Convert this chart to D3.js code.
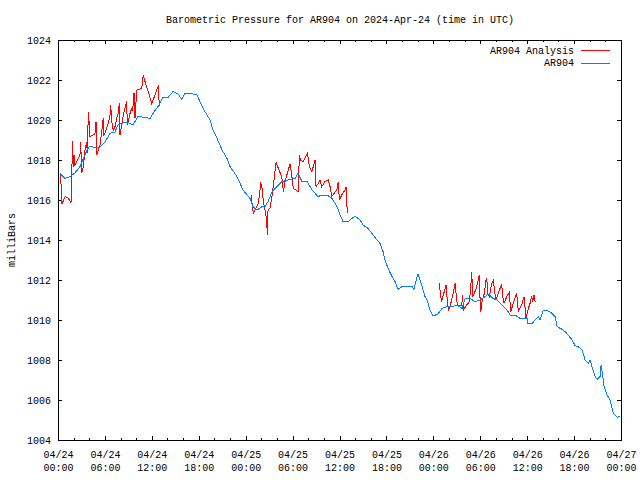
<!DOCTYPE html>
<html><head><meta charset="utf-8">
<script src="https://cdn.jsdelivr.net/npm/d3@7"></script>
<style>
body{margin:0;background:#fff;}
text{font-family:"Liberation Mono","DejaVu Sans Mono",monospace;font-size:10px;fill:#000;}
</style></head><body>
<svg id="c" width="640" height="480"></svg>
<script>
// hours since 2024-04-24 00:00 UTC
const stationHours = [0.26,0.90,1.53,2.17,2.81,3.45,3.71,4.09,4.48,5.37,6.01,6.65,7.29,7.67,8.57,9.21,9.59,10.23,11.13,11.77,12.15,12.79,13.43,14.07,14.71,15.35,15.86,16.24,16.88,17.78,18.55,19.44,19.82,20.34,20.98,21.61,22.00,22.89,23.66,24.56,24.94,25.45,26.09,26.48,26.86,27.37,28.01,28.65,29.42,30.31,30.70,31.21,31.85,32.49,33.25,33.77,34.41,35.04,35.68,36.07,36.45,37.09,37.99,38.63,39.01,39.65,40.29,40.80,41.18,41.57,41.82,42.21,42.72,43.10,43.49,44.13,45.28,45.53,45.92,46.04,46.56,46.94,47.19,47.58,47.96,48.60,49.11,49.75,50.39,51.03,51.67,52.06,52.70,53.34,53.98,54.62,55.00,55.64,56.15,56.79,57.43,57.81,58.45,59.09,59.99,60.12,60.63,61.01,61.40,61.65,62.04,62.67,63.18,63.57,63.83,64.47,64.85,65.23,65.75,66.13,66.52,67.03,67.41,67.80,68.05,68.31,68.69,68.95,69.33,69.46,69.59,69.84,70.23,70.61,70.99,71.50,71.89];
const stationPressure = [1017.33,1017.08,1017.17,1017.35,1017.67,1018.25,1018.5,1018.7,1018.65,1018.65,1018.9,1019.33,1019.4,1019.75,1019.9,1019.83,1019.75,1020.17,1020.13,1020.08,1020.33,1020.67,1021.13,1021.13,1021.42,1021.3,1021.03,1021.33,1021.33,1021.25,1020.58,1020.0,1019.5,1019.08,1018.5,1018.08,1017.67,1017.17,1016.5,1016.08,1015.67,1015.5,1015.67,1015.67,1015.92,1016.42,1016.67,1016.92,1017.0,1017.08,1017.33,1016.92,1016.92,1016.5,1016.17,1016.25,1016.25,1016.08,1015.67,1015.25,1014.92,1014.92,1015.2,1015.0,1014.75,1014.58,1014.25,1014.0,1013.83,1013.42,1013.0,1012.58,1012.17,1011.92,1011.53,1011.7,1011.7,1011.53,1012.17,1012.28,1011.67,1011.17,1011.0,1010.5,1010.2,1010.3,1010.58,1010.67,1010.67,1010.75,1010.58,1011.08,1011.08,1010.92,1011.0,1011.17,1011.3,1011.08,1011.0,1010.75,1010.5,1010.25,1010.25,1010.08,1010.08,1009.8,1009.83,1010.0,1010.17,1010.0,1010.47,1010.45,1010.33,1010.17,1009.67,1009.53,1009.42,1009.25,1009.0,1008.72,1008.67,1008.5,1008.0,1007.83,1008.0,1007.63,1007.17,1007.03,1007.17,1007.75,1007.42,1006.67,1006.25,1006.0,1005.37,1005.13,1005.2];

const analysisHours1 = [0.32,0.51,0.90,1.28,1.66,1.75,1.83,1.96,2.05,2.17,2.60,2.81,2.90,3.03,3.24,3.45,3.67,3.75,3.88,4.00,4.09,4.51,4.73,4.86,4.95,5.15,5.37,5.79,5.88,6.01,6.43,6.65,6.74,6.87,7.07,7.29,7.51,7.71,7.84,7.93,8.15,8.35,8.79,8.86,9.21,9.43,9.55,9.72,9.85,10.07,10.71,10.91,11.13,11.55,11.98,12.41,12.70,12.83,12.96];
const analysisPressure1 = [1017.35,1015.8,1016.17,1016.1,1015.87,1016.42,1018.95,1017.67,1018.25,1017.75,1018.08,1018.25,1018.92,1017.33,1017.67,1018.5,1018.92,1018.33,1020.42,1019.75,1019.17,1019.25,1019.33,1019.92,1018.25,1018.5,1018.75,1020.08,1019.25,1019.33,1019.83,1020.25,1020.75,1019.92,1019.5,1019.67,1020.08,1020.33,1020.83,1019.25,1019.75,1020.25,1020.92,1019.75,1020.33,1020.58,1020.5,1021.33,1020.08,1021.5,1021.58,1022.25,1021.92,1021.42,1020.83,1021.25,1021.58,1021.67,1020.7];
const analysisHours2 = [24.68,24.98,25.20,25.62,25.93,26.05,26.26,26.48,26.69,26.77,26.86,27.11,27.33,27.63,27.88,28.18,28.61,28.82,29.03,29.45,29.67,29.89,30.09,30.73,30.86,31.04,31.37,31.59,31.88,32.01,32.14,32.45,32.65,32.87,33.00,33.29,33.51,33.73,34.15,34.57,34.79,35.01,35.65,35.85,35.98,36.28,36.71,36.84,37.00];
const analysisPressure2 = [1016.25,1015.33,1015.5,1015.83,1016.83,1016.75,1015.92,1015.5,1015.0,1014.25,1015.5,1015.58,1016.08,1017.0,1017.87,1017.58,1017.17,1016.42,1016.92,1017.5,1017.8,1017.25,1016.58,1016.42,1018.25,1017.97,1017.92,1018.08,1018.33,1018.08,1017.67,1017.42,1017.67,1018.0,1016.67,1016.83,1017.0,1016.67,1016.92,1017.0,1016.67,1016.17,1016.5,1016.92,1016.0,1016.25,1016.5,1016.67,1015.33];
const analysisHours3 = [48.77,48.95,49.07,49.28,49.63,49.79,49.92,50.14,50.48,50.78,50.90,51.07,51.63,51.76,51.84,52.27,52.61,52.79,52.91,53.04,53.33,53.55,53.88,53.98,54.06,54.27,54.52,54.74,54.83,54.96,55.16,55.47,55.68,55.81,56.02,56.31,56.53,56.75,56.88,57.04,57.39,57.72,57.90,58.23,58.66,58.87,59.30,59.60,59.86,60.15,60.37,60.58,60.71,60.88,61.01];
const analysisPressure3 = [1011.83,1011.17,1010.92,1011.25,1011.75,1010.92,1010.5,1010.67,1011.25,1011.83,1011.33,1010.75,1010.75,1011.25,1010.5,1010.75,1010.92,1011.67,1012.42,1011.17,1011.42,1011.67,1012.25,1011.0,1010.42,1011.0,1011.33,1012.0,1012.08,1011.33,1011.17,1011.83,1012.0,1011.5,1011.0,1011.33,1011.58,1011.75,1011.17,1010.83,1011.17,1011.37,1010.42,1010.83,1011.33,1010.42,1010.75,1011.17,1010.08,1010.58,1010.83,1011.17,1010.92,1011.25,1010.92];

const yTicks = [1004,1006,1008,1010,1012,1014,1016,1018,1020,1022,1024];
const seriesNames = ["AR904 Analysis","AR904"];
const seriesColors = ["#ff0000","#0080ff"];
const titleText = "Barometric Pressure for AR904 on 2024-Apr-24 (time in UTC)";
const yLabel = "milliBars";

const t0 = Date.UTC(2024,3,24,0,0);
const toDate = h => new Date(t0 + h*3600000);
const zip = (hs,ps) => hs.map((h,i)=>({t:toDate(h),p:ps[i]}));

const svg = d3.select("#c");
const L=58,R=621,T=40,B=440;
const x = d3.scaleUtc().domain([toDate(0),toDate(72)]).range([L,R]);
const y = d3.scaleLinear().domain([1004,1024]).range([B,T]);

const major = d3.utcHour.every(6).range(toDate(0), toDate(72.01));
const minor = d3.utcHour.every(2).range(toDate(0), toDate(72.01)).filter(d=>d.getUTCHours()%6!==0);

const g = svg.append("g").attr("shape-rendering","crispEdges");
g.append("g").attr("transform",`translate(0,${B})`).call(d3.axisBottom(x).tickValues(minor).tickSize(-2).tickFormat(""));
g.append("g").attr("transform",`translate(0,${T})`).call(d3.axisTop(x).tickValues(minor).tickSize(-2).tickFormat(""));
const fmtD = d3.utcFormat("%m/%d"), fmtT = d3.utcFormat("%H:%M");
const xb = g.append("g").attr("transform",`translate(0,${B})`).call(d3.axisBottom(x).tickValues(major).tickSize(-4).tickPadding(9).tickFormat(fmtD));
xb.selectAll(".tick text").each(function(d){
  const t=d3.select(this); t.text(null).attr("dy",null).attr("y",18);
  t.append("tspan").attr("x",0).attr("y",18).text(fmtD(d));
  t.append("tspan").attr("x",0).attr("y",31).text(fmtT(d));
});
g.append("g").attr("transform",`translate(0,${T})`).call(d3.axisTop(x).tickValues(major).tickSize(-4).tickFormat(""));
g.append("g").attr("transform",`translate(${L},0)`).call(d3.axisLeft(y).tickValues(yTicks).tickSize(-4).tickPadding(7).tickFormat(d3.format("d")));
g.append("g").attr("transform",`translate(${R},0)`).call(d3.axisRight(y).tickValues(yTicks).tickSize(-4).tickFormat(""));
g.selectAll(".domain").remove();
g.selectAll(".tick line").attr("stroke","#000");
g.selectAll(".tick text").style("font-family",'"Liberation Mono","DejaVu Sans Mono",monospace').style("font-size","10px");
g.append("rect").attr("x",L).attr("y",T).attr("width",R-L).attr("height",B-T).attr("fill","none").attr("stroke","#000");

const line = d3.line().x(d=>x(d.t)).y(d=>y(d.p));
const plot = svg.append("g").attr("shape-rendering","crispEdges");
[zip(analysisHours1,analysisPressure1),zip(analysisHours2,analysisPressure2),zip(analysisHours3,analysisPressure3)].forEach(s=>{
  plot.append("path").datum(s).attr("d",line).attr("fill","none").attr("stroke",seriesColors[0]).attr("stroke-width",1);
});
plot.append("path").datum(zip(stationHours,stationPressure)).attr("d",line).attr("fill","none").attr("stroke",seriesColors[1]).attr("stroke-width",1);

svg.append("text").attr("x",340).attr("y",23).attr("text-anchor","middle").text(titleText);
svg.append("text").attr("transform","translate(15,240) rotate(-90)").attr("text-anchor","middle").text(yLabel);

seriesNames.forEach((n,i)=>{
  const yy = 50 + i*12.5;
  svg.append("text").attr("x",574).attr("y",yy).attr("dy","0.35em").attr("text-anchor","end").text(n);
  svg.append("line").attr("x1",581).attr("x2",610).attr("y1",Math.round(yy)+0.5).attr("y2",Math.round(yy)+0.5).attr("stroke",seriesColors[i]).attr("shape-rendering","crispEdges");
});
</script></body></html>
